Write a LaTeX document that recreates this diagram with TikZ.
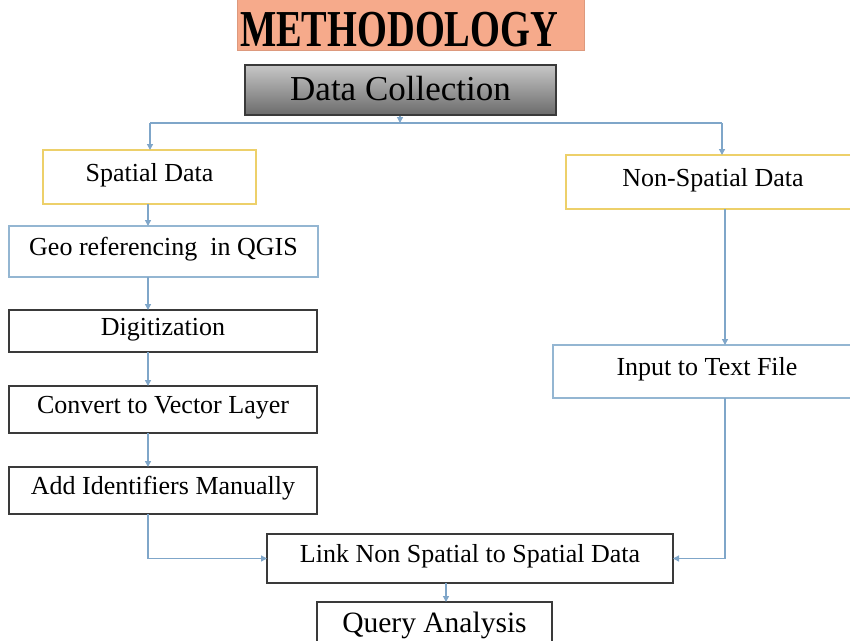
\documentclass[tikz,border=0pt]{standalone}
\usepackage{fontspec}
\setmainfont{Liberation Serif}
\usetikzlibrary{arrows.meta}
\definecolor{connc}{HTML}{7FA6C9}
\definecolor{blueb}{HTML}{94B6D2}
\definecolor{yellb}{HTML}{EDD06A}
\definecolor{salmon}{HTML}{F6AA8B}
\definecolor{darkb}{HTML}{3A3A3A}
\tikzset{
  boxbase/.style={rectangle, inner sep=0pt, outer sep=0pt, line width=1.3pt,
    font=\fontsize{26}{30}\selectfont, text height=16pt, text depth=8pt},
  blackbox/.style={boxbase, draw=darkb},
  bluebox/.style={boxbase, draw=blueb},
  yellowbox/.style={boxbase, draw=yellb},
  conn/.style={draw=connc, line width=1.3pt, -{Triangle[length=6pt,width=6pt]}},
  plainline/.style={draw=connc, line width=1.3pt}
}
\begin{document}
\begin{tikzpicture}[x=1pt,y=-1pt]
\useasboundingbox (0,0) rectangle (850,640);
% title
\node[rectangle, fill=salmon, draw=salmon!90!black, line width=0.6pt,
      minimum width=347pt, minimum height=58pt, inner sep=0pt] (meth) at (410.5,21) {};
\node[inner sep=0pt, font=\fontsize{38.4}{40}\selectfont\bfseries,
      text height=34.3pt, text depth=0pt] (methtxt) at (399,29.5)
      {\scalebox{1}[1.35]{METHODOLOGY}};
% data collection
\node[rectangle, draw=darkb, line width=1.2pt, top color=black!22, bottom color=black!58,
      minimum width=311pt, minimum height=50pt, inner sep=0pt,
      font=\fontsize{35}{40}\selectfont, text height=24.5pt, text depth=3.5pt]
      (dc) at (400.5,90) {Data Collection};
% boxes
\node[yellowbox, minimum width=213pt, minimum height=54pt] (sp) at (149.5,177) {Spatial Data};
\node[yellowbox, minimum width=294pt, minimum height=54pt] (nsp) at (713,182) {Non-Spatial Data};
\node[bluebox, minimum width=309pt, minimum height=51pt] (geo) at (163.5,251.5) {Geo referencing\ \ in QGIS};
\node[blackbox, minimum width=308pt, minimum height=42pt] (dig) at (163,331) {Digitization};
\node[blackbox, minimum width=308pt, minimum height=47pt] (conv) at (163,409.5) {Convert to Vector Layer};
\node[blackbox, minimum width=308pt, minimum height=47pt] (add) at (163,490.5) {Add Identifiers Manually};
\node[bluebox, minimum width=308pt, minimum height=53pt] (inp) at (707,371.5) {Input to Text File};
\node[blackbox, minimum width=406pt, minimum height=49pt] (link) at (470,558.5) {Link Non Spatial to Spatial Data};
\node[blackbox, minimum width=235pt, minimum height=60pt,
      font=\fontsize{29.5}{32}\selectfont, text height=20pt, text depth=20pt]
      (query) at (434.5,632) {Query Analysis};
% coordinates
\coordinate (brL) at (150,123);
\coordinate (brR) at (722,123);
\coordinate (brC) at (400,123);
\coordinate (lx) at (148,0);
\coordinate (rx) at (725,0);
\coordinate (qx) at (446,0);
% connectors
\draw[plainline] (brL) -- (brR);
\draw[conn] (dc.south -| brC) -- (brC);
\draw[conn] (brL) -- (brL |- sp.north);
\draw[conn] (brR) -- (brR |- nsp.north);
\draw[conn] (sp.south -| lx) -- (geo.north -| lx);
\draw[conn] (geo.south -| lx) -- (dig.north -| lx);
\draw[conn] (dig.south -| lx) -- (conv.north -| lx);
\draw[conn] (conv.south -| lx) -- (add.north -| lx);
\draw[conn] (nsp.south -| rx) -- (inp.north -| rx);
\draw[conn] (add.south -| lx) |- (link.west);
\draw[conn] (inp.south -| rx) |- (link.east);
\draw[conn] (link.south -| qx) -- (query.north -| qx);
\end{tikzpicture}
\end{document}
